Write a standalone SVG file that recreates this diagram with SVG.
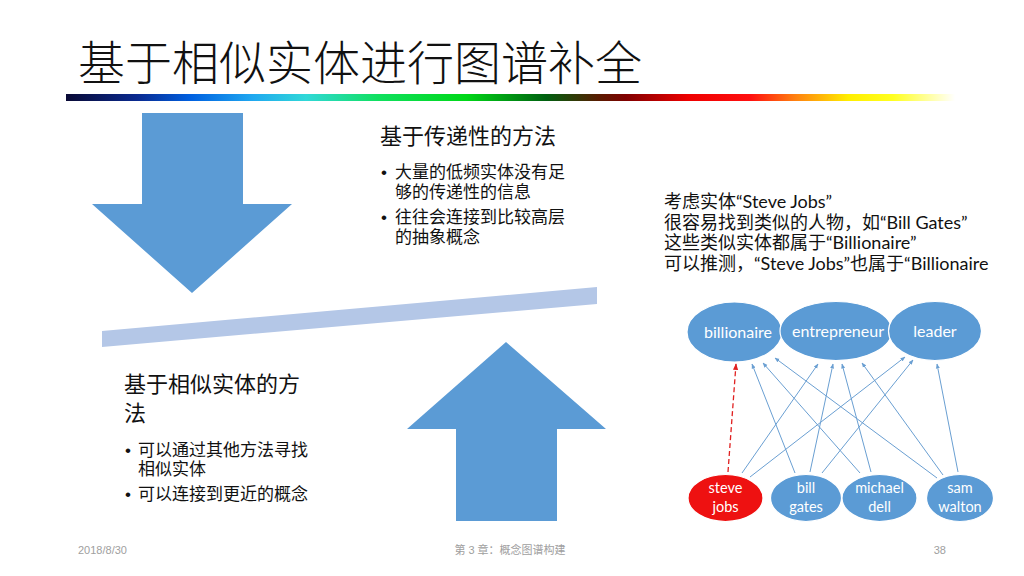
<svg xmlns="http://www.w3.org/2000/svg" width="1024" height="576" viewBox="0 0 1024 576">
<defs>
<linearGradient id="rainbow" x1="66" y1="0" x2="955" y2="0" gradientUnits="userSpaceOnUse">
<stop offset="0" stop-color="#0a0a35"/>
<stop offset="0.08" stop-color="#0a2a90"/>
<stop offset="0.14" stop-color="#0060e0"/>
<stop offset="0.21" stop-color="#20a8f0"/>
<stop offset="0.27" stop-color="#30d8d8"/>
<stop offset="0.35" stop-color="#10e060"/>
<stop offset="0.45" stop-color="#00d818"/>
<stop offset="0.54" stop-color="#006010"/>
<stop offset="0.6" stop-color="#5a1a00"/>
<stop offset="0.63" stop-color="#800000"/>
<stop offset="0.7" stop-color="#ee0000"/>
<stop offset="0.77" stop-color="#ff1010"/>
<stop offset="0.82" stop-color="#ff8010"/>
<stop offset="0.88" stop-color="#ffee00"/>
<stop offset="0.93" stop-color="#ffff20"/>
<stop offset="1" stop-color="#ffffff"/>
</linearGradient>
<marker id="arr" viewBox="0 0 10 10" refX="9" refY="5" markerWidth="5" markerHeight="5" orient="auto-start-reverse">
<path d="M0,1 L10,5 L0,9 z" fill="#6a9fd2"/>
</marker>
<marker id="arrRed" viewBox="0 0 10 10" refX="9" refY="5" markerWidth="5" markerHeight="5" orient="auto-start-reverse">
<path d="M0,1 L10,5 L0,9 z" fill="#e02020"/>
</marker>
</defs>
<style>
.cjk{font-family:"Noto Sans CJK SC","Liberation Sans",sans-serif;fill:#111}
.title{font-size:47px;font-weight:300}
.h{font-size:22px}
.b{font-size:17px}
.dot{font-family:"Liberation Sans",sans-serif;font-size:17px;fill:#111}
.r{font-family:Lato,"Noto Sans CJK SC",sans-serif;font-size:18px;fill:#111}
.foot{font-family:"Liberation Sans","Noto Sans CJK SC",sans-serif;font-size:11px;fill:#a0a0a0}
.big{fill:#5b9bd5}
.node{fill:#5b9bd5;stroke:#ffffff;stroke-width:1.2}
.red{fill:#ee1111;stroke:#ffffff;stroke-width:1.2}
.nt{font-family:Lato,"Open Sans",sans-serif;font-size:16px;fill:#ffffff;text-anchor:middle}
.nts{font-family:Lato,"Open Sans",sans-serif;font-size:14.5px;fill:#ffffff;text-anchor:middle}
.e{stroke:#6a9fd2;stroke-width:1;fill:none;marker-end:url(#arr)}
.ed{stroke:#e02020;stroke-width:1.3;fill:none;stroke-dasharray:5,3;marker-end:url(#arrRed)}
</style>
<rect width="1024" height="576" fill="#ffffff"/>

<g id="title">
<text class="cjk title" x="78" y="80">基于相似实体进行图谱补全</text>
<rect x="66" y="94" width="889" height="7" fill="url(#rainbow)"/>
</g>

<g id="down-arrow">
<polygon class="big" points="142,113 243,113 243,204 292,204 192,293 92,204 142,204"/>
</g>
<g id="divider">
<polygon points="102,331 597,287 597,304 102,347" fill="#b4c7e7"/>
</g>
<g id="up-arrow">
<polygon class="big" points="506,342 606,429 557,429 557,521 456,521 456,429 407,429"/>
</g>

<g id="transitive-text">
<text class="cjk h" x="380" y="144">基于传递性的方法</text>
<text class="dot" x="381" y="178">•</text>
<text class="cjk b" x="395" y="178">大量的低频实体没有足<tspan x="395" dy="20">够的传递性的信息</tspan></text>
<text class="dot" x="381" y="223">•</text>
<text class="cjk b" x="395" y="223">往往会连接到比较高层<tspan x="395" dy="20">的抽象概念</tspan></text>
</g>

<g id="similar-text">
<text class="cjk h" x="124" y="392">基于相似实体的方<tspan x="124" dy="29">法</tspan></text>
<text class="dot" x="125" y="456">•</text>
<text class="cjk b" x="138" y="456">可以通过其他方法寻找<tspan x="138" dy="19">相似实体</tspan></text>
<text class="dot" x="125" y="500">•</text>
<text class="cjk b" x="138" y="500">可以连接到更近的概念</text>
</g>

<g id="example-text">
<text class="r" x="664" y="208">考虑实体“Steve Jobs”<tspan x="664" dy="21">很容易找到类似的人物，如“Bill Gates”</tspan><tspan x="664" dy="20">这些类似实体都属于“Billionaire”</tspan><tspan x="664" dy="21">可以推测，“Steve Jobs”也属于“Billionaire</tspan></text>
</g>

<g id="connectors">
<line class="ed" x1="728" y1="472" x2="736" y2="364"/>
<line class="e" x1="742" y1="473" x2="818" y2="364"/>
<line class="e" x1="750" y1="477" x2="905" y2="357"/>
<line class="e" x1="795" y1="473" x2="752" y2="364"/>
<line class="e" x1="810" y1="472" x2="833" y2="364"/>
<line class="e" x1="822" y1="473" x2="913" y2="360"/>
<line class="e" x1="860" y1="473" x2="763" y2="363"/>
<line class="e" x1="871" y1="472" x2="842" y2="364"/>
<line class="e" x1="937" y1="478" x2="775" y2="358"/>
<line class="e" x1="943" y1="475" x2="862" y2="363"/>
<line class="e" x1="958" y1="472" x2="937" y2="364"/>
</g>

<g id="billionaire">
<ellipse class="node" cx="734.5" cy="332" rx="47.5" ry="30"/>
<text class="nt" x="738" y="338">billionaire</text>
</g>
<g id="entrepreneur">
<ellipse class="node" cx="836" cy="331" rx="56" ry="29.5"/>
<text class="nt" x="838" y="337">entrepreneur</text>
</g>
<g id="leader">
<ellipse class="node" cx="935" cy="331" rx="46.5" ry="29.5"/>
<text class="nt" x="935" y="337">leader</text>
</g>
<g id="steve-jobs">
<ellipse class="red" cx="725.5" cy="498" rx="37.5" ry="23.5"/>
<text class="nts" x="725.5" y="493">steve<tspan x="725.5" dy="19">jobs</tspan></text>
</g>
<g id="bill-gates">
<ellipse class="node" cx="806" cy="498" rx="35.5" ry="23.5"/>
<text class="nts" x="806" y="493">bill<tspan x="806" dy="19">gates</tspan></text>
</g>
<g id="michael-dell">
<ellipse class="node" cx="879.5" cy="498" rx="37.5" ry="23.5"/>
<text class="nts" x="879.5" y="493">michael<tspan x="879.5" dy="19">dell</tspan></text>
</g>
<g id="sam-walton">
<ellipse class="node" cx="960" cy="498" rx="33.5" ry="23.5"/>
<text class="nts" x="960" y="493">sam<tspan x="960" dy="19">walton</tspan></text>
</g>

<g id="footer">
<text class="foot" x="78" y="554">2018/8/30</text>
<text class="foot" x="510" y="554" text-anchor="middle">第 3 章：概念图谱构建</text>
<text class="foot" x="946" y="554" text-anchor="end">38</text>
</g>
</svg>
